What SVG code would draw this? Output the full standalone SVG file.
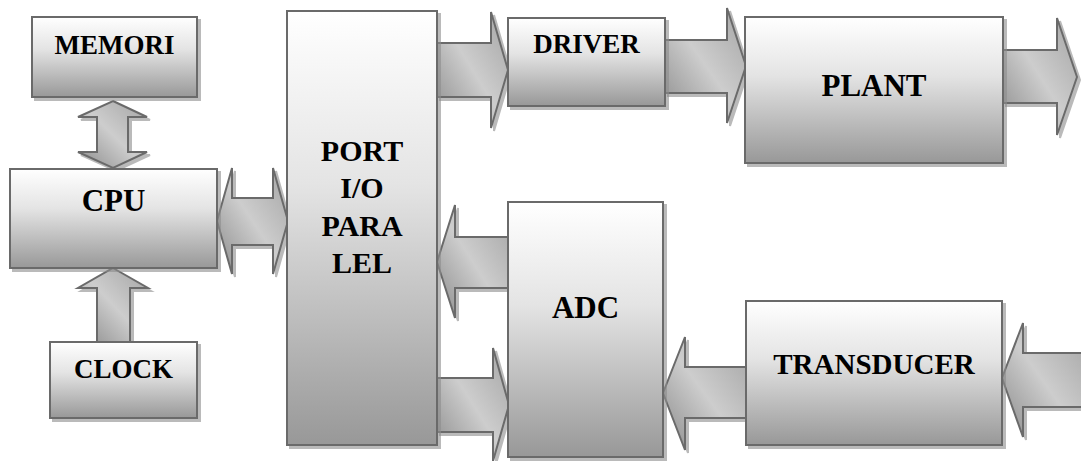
<svg xmlns="http://www.w3.org/2000/svg" width="1081" height="461" viewBox="0 0 1081 461">
<defs>
<linearGradient id="boxg" x1="0" y1="0" x2="0" y2="1">
<stop offset="0" stop-color="#ffffff"/>
<stop offset="0.4" stop-color="#e4e4e4"/>
<stop offset="1" stop-color="#989898"/>
</linearGradient>
<linearGradient id="arrg" x1="0" y1="1" x2="1" y2="0">
<stop offset="0" stop-color="#8a8a8a"/>
<stop offset="0.5" stop-color="#cdcdcd"/>
<stop offset="1" stop-color="#a4a4a4"/>
</linearGradient>
<filter id="sh" x="-10%" y="-10%" width="130%" height="130%">
<feDropShadow dx="3" dy="3" stdDeviation="0.6" flood-color="#8c8c8c" flood-opacity="0.6"/>
</filter>
</defs>
<style>
.box{fill:url(#boxg);stroke:#6b6b6b;stroke-width:2;filter:url(#sh)}
.arr{fill:url(#arrg);stroke:#6b6b6b;stroke-width:2;stroke-linejoin:miter;filter:url(#sh)}
.t{font-weight:bold;fill:#000;text-anchor:middle}
</style>
<rect width="1081" height="461" fill="#ffffff"/>
<g id="connectors">
<path class="arr" d="M113,101 L147,117 L128,117 L128,152 L147,152 L113,168 L78,152 L97,152 L97,117 L78,117 Z"/>
<path class="arr" d="M113,268 L148,288 L130,288 L130,342 L97,342 L97,288 L78,288 Z"/>
<path class="arr" d="M217,221 L232,168 L232,198 L273,198 L273,168 L288,221 L273,274 L273,245 L232,245 L232,274 Z"/>
<path class="arr" d="M437,43 L491,43 L491,12 L508,70 L491,128 L491,97 L437,97 Z"/>
<path class="arr" d="M665,40 L727,40 L727,8 L746,66 L727,123 L727,93 L665,93 Z"/>
<path class="arr" d="M1003,50 L1057,50 L1057,18 L1077,77 L1057,135 L1057,103 L1003,103 Z"/>
<path class="arr" d="M508,237 L455,237 L455,205 L437,262 L455,318 L455,288 L508,288 Z"/>
<path class="arr" d="M437,378 L493,378 L493,348 L509,405 L493,461 L493,432 L437,432 Z"/>
<path class="arr" d="M746,367 L685,367 L685,337 L663,393 L685,450 L685,418 L746,418 Z"/>
<path class="arr" d="M1083,353 L1023,353 L1023,323 L1002,378 L1023,437 L1023,407 L1083,407 Z"/>
</g>
<g font-family="Liberation Serif, DejaVu Serif, serif">
<g id="memori"><rect class="box" x="32" y="17" width="165" height="80"/><text class="t" x="114.5" y="54" font-size="27">MEMORI</text></g>
<g id="cpu"><rect class="box" x="10" y="169" width="207" height="99"/><text class="t" x="113.5" y="211" font-size="31">CPU</text></g>
<g id="clock"><rect class="box" x="50" y="342" width="147" height="76"/><text class="t" x="123.5" y="378" font-size="27">CLOCK</text></g>
<g id="port"><rect class="box" x="287" y="11" width="150" height="434"/><text class="t" x="362" y="161" font-size="30"><tspan x="362" y="161">PORT</tspan><tspan x="362" y="198">I/O</tspan><tspan x="362" y="236">PARA</tspan><tspan x="362" y="273">LEL</tspan></text></g>
<g id="driver"><rect class="box" x="508" y="18" width="157" height="88"/><text class="t" x="586.5" y="53" font-size="27">DRIVER</text></g>
<g id="plant"><rect class="box" x="745" y="17" width="258" height="146"/><text class="t" x="874" y="96" font-size="31">PLANT</text></g>
<g id="adc"><rect class="box" x="508" y="202" width="155" height="255"/><text class="t" x="585.5" y="318" font-size="31">ADC</text></g>
<g id="transducer"><rect class="box" x="746" y="301" width="256" height="144"/><text class="t" x="874" y="374" font-size="29">TRANSDUCER</text></g>
</g>
</svg>
